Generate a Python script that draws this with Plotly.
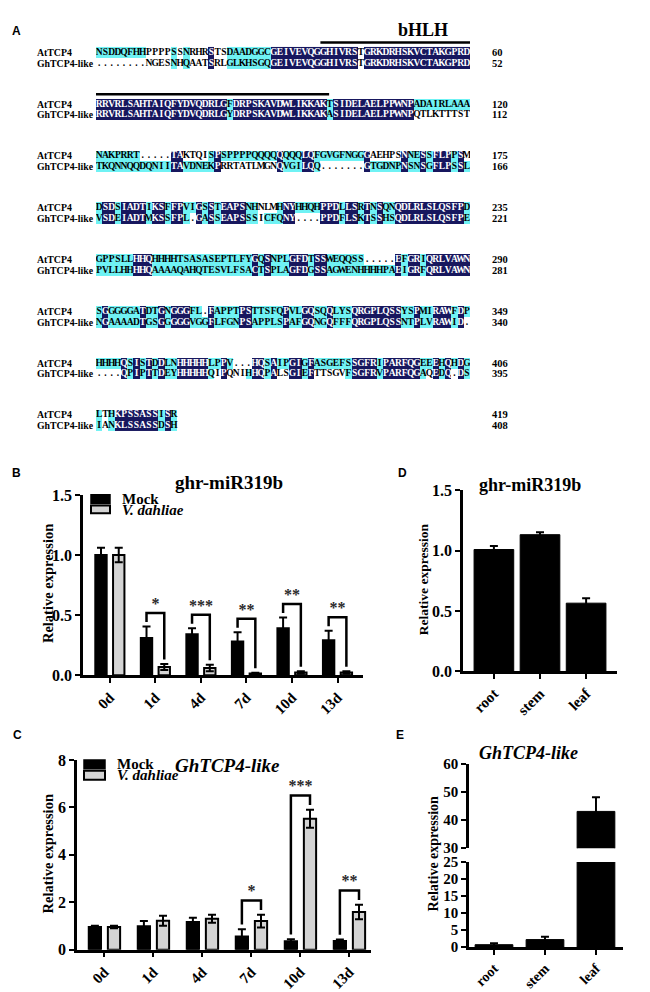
import plotly.graph_objects as go

# ------------------------------------------------------------------ data
SEQ_NAMES = ["AtTCP4", "GhTCP4-like"]
AT_SEQ = [
    "NSDDQFHHPPPPSSNRHRSTSDAADGGCGEIVEVQGGHIVRSTGRKDRHSKVCTAKGPRD",
    "RRVRLSAHTAIQFYDVQDRLGFDRPSKAVDWLIKKAKTSIDELAELPPWNPADAIRLAAA",
    "NAKPRRT.....TAKTQISPSPPPPQQQQQQQQLQFGVGFNGGGAEHPSNNESSFLPPSM",
    "DSDSIADTIKSFFPVIGSSTEAPSNHNLMHNYHHQHPPDLLSRTNSQNQDLRLSLQSFPD",
    "GPPSLLHHQHHHHTSASASEPTLFYGQSNPLGFDTSSWEQQSS.....EFGRIQRLVAWN",
    "SGGGGGATDTGNGGGFL.FAPPTPSTTSFQPVLGQSQQLYSQRGPLQSSYSPMIRAWFDP",
    "HHHHQSISTDDLNHHHHHLPPV...HQSAIPGIGFASGEFSSGFRIPARFQGEEEHQHDG",
    "LTHKPSSASSISR",
]
GH_SEQ = [
    "........NGESNHQAATSRLGLKHSGQGEIVEVQGGHIVRSTGRKDRHSKVCTAKGPRD",
    "RRVRLSAHTAIQFYDVQDRLGYDRPSKAVDWLIKKAKASIDELAELPPWNPQTLKTTTST",
    "TKQNNQQDQNIITAVDNEKPRRTATLMGNQVGILQQ.......GTGDNPNSNSGFLPSSL",
    "VSDEIADTMKSSFPL.GASSEAPSSSICFQNY....PPDFLSKTSSHSQDLRLSLQSFPE",
    "PVLLHHHHQAAAAQAHQTESVLFSACTSPLAGFDGSSAGWENHHHHPAEIGRFQRLVAWN",
    "NGAAAADTGSGGGGGVGGFLFGNPSAPPLSPAFGQNGQFFFQRGPLQSSNTPLVRAWID.",
    "....QPIPTTDEYHHHHHQIPQNIHHQPALSGIEFTTSGVFSGFRVPARFQGAQEDQ.DS",
    "IANKLSSASSDSH",
]
# shading: n = identical (navy), c = similar (cyan), - = none
AT_SHADE = [
    "cccccccc----c-c---n--ccccccc" + "n" * 14 + "-" + "n" * 17,
    "n" * 21 + "c" + "n" * 15 + "c" + "n" * 13 + "c" * 9,
    "c" * 7 + "-" * 5 + "nn" + "-" * 4 + "cnc" + "c" * 8 + "n" + "ccc" + "nn" + "c" * 8 + "n" + "-" * 5 + "ncc" + "nc" + "nnn" + "cn-",
    "cnncnnnncnncnnccncncnnnncc---cnnccccnnncnncncnccn" + "n" * 10 + "c",
    "c" * 6 + "nnn" + "c" * 16 + "ncn" + "ccc" + "nnn" + "c" + "nn" + "c" * 6 + "-" * 5 + "nc" + "nn" + "c" + "n" * 7,
    "cn" + "c" * 5 + "n" + "cc" + "nc" + "nnn" + "cc" + "-" + "n" + "cccc" + "nn" + "c" * 5 + "n" + "cc" + "nn" + "cc" + "n" + "ccc" + "n" * 8 + "cc" + "n" + "cc" + "nnn" + "cnc",
    "cccc" + "ncncncn" + "cc" + "n" * 5 + "cc" + "nc" + "---" + "nn" + "cn" + "cc" + "nn" + "cn" + "c" * 6 + "nnnn" + "c" + "n" * 6 + "cc" + "ncncnc",
    "c-cnnnnnnncnc",
]
GH_SHADE = [
    "--------" + "----c-c---n--ccccccc" + "n" * 14 + "-" + "n" * 17,
    "n" * 21 + "c" + "n" * 15 + "c" + "n" * 13 + "-" * 9,
    "c" * 12 + "nn" + "c" * 5 + "n" + "-" * 9 + "n" + "ccc" + "nn" + "c" + "-" * 7 + "n" + "c" * 5 + "n" + "cc" + "nc" + "nnn" + "cnc",
    "cnncnnnncnncnnc-ncncnnnncc-cccnn----nnncnncncnccn" + "n" * 10 + "c",
    "c" * 6 + "nnn" + "c" * 16 + "ncn" + "ccc" + "nnn" + "c" + "nn" + "c" * 11 + "nc" + "nn" + "c" + "n" * 7,
    "cn" + "c" * 5 + "n" + "cc" + "nc" + "nnn" + "cc" + "c" + "n" + "cccc" + "nn" + "c" * 5 + "n" + "cc" + "nn" + "cc" + "n" + "ccc" + "n" * 8 + "cc" + "n" + "cc" + "nnn" + "cn-",
    "----" + "ncncncn" + "cc" + "n" * 5 + "c-n---c" + "nn" + "cn" + "--" + "nn" + "cn" + "-----" + "c" + "nnnn" + "c" + "n" * 6 + "c-" + "ncn-nc",
    "c-cnnnnnnncnc",
]
AT_END = [60, 120, 175, 235, 290, 349, 406, 419]
GH_END = [52, 112, 166, 221, 281, 340, 395, 408]
BHLH_SPANS = [(0, 37, 60), (1, 1, 37)]  # (block, first column, last column)

DAYS = ["0d", "1d", "4d", "7d", "10d", "13d"]
MIR_MOCK = [1.00, 0.31, 0.34, 0.28, 0.39, 0.29]
MIR_MOCK_ERR = [0.06, 0.095, 0.05, 0.077, 0.09, 0.08]
MIR_VD = [1.00, 0.068, 0.06, 0.015, 0.022, 0.022]
MIR_VD_ERR = [0.06, 0.025, 0.027, 0.005, 0.01, 0.01]
MIR_SIG = ["", "*", "***", "**", "**", "**"]

TCP_MOCK = [0.96, 0.99, 1.17, 0.56, 0.36, 0.37]
TCP_MOCK_ERR = [0.05, 0.22, 0.18, 0.30, 0.08, 0.06]
TCP_VD = [0.96, 1.22, 1.31, 1.21, 5.52, 1.59]
TCP_VD_ERR = [0.05, 0.21, 0.17, 0.27, 0.38, 0.31]
TCP_SIG = ["", "", "", "*", "***", "**"]

TISSUES = ["root", "stem", "leaf"]
MIR_TISSUE = [1.01, 1.133, 0.565]
MIR_TISSUE_ERR = [0.03, 0.02, 0.04]
TCP_TISSUE = [0.7, 2.2, 43.1]
TCP_TISSUE_ERR = [0.4, 0.8, 5.0]

# ------------------------------------------------------------------ helpers
W, H = 650, 992


def px(x):
    return x / W


def py(y):
    return 1 - y / H


SERIF = "Liberation Serif, Times New Roman, serif"
SANS = "Liberation Sans, Arial, sans-serif"
NAVY = "#17175e"
CYAN = "#6ff2f4"
GRAY = "#d4d4d4"


def bfont(size, color="black", style="normal"):
    return dict(family=SERIF, size=size, color=color, weight="bold", style=style)


fig = go.Figure()
annotations = []
shapes = []

# ------------------------------------------------------------------ panel A (alignment)
ROW0, PITCH, ROWH, NCOL = 37.0, 52.7, 11.0, 60
CODE = {"n": 2, "c": 1, "-": 0}


def shade_row(s):
    vals = [CODE.get(ch, 0) for ch in s[:NCOL]]
    return vals + [None] * (NCOL - len(vals))


z, edges = [], []
tx, ty, tt, tc = [], [], [], []
nb = len(AT_SEQ)
for b in range(nb):
    top = ROW0 + PITCH * b - ROWH / 2
    edges += [top, top + ROWH]
    z.append(shade_row(AT_SHADE[b]))
    z.append(shade_row(GH_SHADE[b]))
    if b < nb - 1:
        edges.append(top + 2 * ROWH)
        z.append([None] * NCOL)
    for r, (seq, shd) in enumerate(((AT_SEQ[b], AT_SHADE[b]), (GH_SEQ[b], GH_SHADE[b]))):
        yc = ROW0 + PITCH * b + r * ROWH
        for i, ch in enumerate(seq):
            tx.append(i + 1)
            ty.append(yc)
            tt.append(ch)
            code = shd[i] if i < len(shd) else "-"
            tc.append("white" if code == "n" else "black")
        annotations.append(dict(x=px(27), y=yc, xref="paper", yref="y5", text=SEQ_NAMES[r],
                                showarrow=False, xanchor="left", yanchor="middle",
                                font=bfont(9.8)))
        annotations.append(dict(x=px(482), y=yc, xref="paper", yref="y5",
                                text=str((AT_END if r == 0 else GH_END)[b]),
                                showarrow=False, xanchor="left", yanchor="middle",
                                font=bfont(10.5)))
edges.append(ROW0 + PITCH * (nb - 1) - ROWH / 2 + 2 * ROWH)

fig.add_trace(go.Heatmap(
    x=list(range(1, NCOL + 1)), y=edges, z=z, zmin=0, zmax=2,
    colorscale=[[0, "white"], [0.25, "white"], [0.25, CYAN], [0.75, CYAN],
                [0.75, NAVY], [1, NAVY]],
    showscale=False, hoverinfo="skip", xaxis="x5", yaxis="y5"))
fig.add_trace(go.Scatter(
    x=tx, y=ty, text=tt, mode="text", hoverinfo="skip", showlegend=False,
    textfont=dict(family=SERIF, size=9.5, color=tc, weight="bold"),
    xaxis="x5", yaxis="y5"))

for b, c0, c1 in BHLH_SPANS:
    yb = ROW0 + PITCH * b - 10
    shapes.append(dict(type="line", xref="x5", yref="y5", x0=c0 - 0.5, x1=c1 + 0.9,
                       y0=yb, y1=yb, line=dict(color="black", width=2.5)))
annotations.append(dict(x=px(415), y=py(14), xref="paper", yref="paper", text="bHLH",
                        showarrow=False, xanchor="center", yanchor="middle", font=bfont(18)))

# ------------------------------------------------------------------ grouped bar panels (B, C)
MOCK_OFF, VD_OFF, BW = -0.32, 0.07, 0.25


def grouped(xa, ya, mock, mock_err, vd, vd_err, sig, yrange):
    idx = list(range(len(mock)))
    err_style = dict(type="data", visible=True, color="black", thickness=2, width=4)
    fig.add_trace(go.Bar(x=idx, y=mock, width=BW, offset=MOCK_OFF, xaxis=xa, yaxis=ya,
                         marker=dict(color="black", line=dict(color="black", width=2)),
                         error_y=dict(array=mock_err, **err_style),
                         hoverinfo="skip", showlegend=False))
    fig.add_trace(go.Bar(x=idx, y=vd, width=BW, offset=VD_OFF, xaxis=xa, yaxis=ya,
                         marker=dict(color=GRAY, line=dict(color="black", width=2)),
                         error_y=dict(array=vd_err, **err_style),
                         hoverinfo="skip", showlegend=False))
    span = yrange[1] - yrange[0]
    bx, by, sx, sy, st = [], [], [], [], []
    for i, s in enumerate(sig):
        if not s:
            continue
        xl = i + MOCK_OFF + BW / 2
        xr = i + VD_OFF + BW / 2
        yl = mock[i] + mock_err[i] + 0.025 * span
        yr = vd[i] + vd_err[i] + 0.025 * span
        top = max(mock[i] + mock_err[i], vd[i] + vd_err[i]) + 0.075 * span
        bx += [xl, xl, xr, xr, None]
        by += [yl, top, top, yr, None]
        sx.append((xl + xr) / 2)
        sy.append(top + 0.045 * span)
        st.append(s)
    fig.add_trace(go.Scatter(x=bx, y=by, mode="lines", xaxis=xa, yaxis=ya,
                             line=dict(color="black", width=2.5), hoverinfo="skip",
                             showlegend=False))
    fig.add_trace(go.Scatter(x=sx, y=sy, text=st, mode="text", xaxis=xa, yaxis=ya,
                             textfont=bfont(16, "#2a2a2a"), hoverinfo="skip",
                             showlegend=False))


grouped("x", "y", MIR_MOCK, MIR_MOCK_ERR, MIR_VD, MIR_VD_ERR, MIR_SIG, [0, 1.5])
grouped("x2", "y2", TCP_MOCK, TCP_MOCK_ERR, TCP_VD, TCP_VD_ERR, TCP_SIG, [0, 8])

# ------------------------------------------------------------------ tissue panels (D, E)
tidx = list(range(len(TISSUES)))
terr = dict(type="data", visible=True, color="black", thickness=2, width=4)
fig.add_trace(go.Bar(x=tidx, y=MIR_TISSUE, width=0.86, xaxis="x3", yaxis="y3",
                     marker=dict(color="black", line=dict(color="black", width=1)),
                     error_y=dict(array=MIR_TISSUE_ERR, **terr),
                     hoverinfo="skip", showlegend=False))
for xa, ya in (("x4", "y4"), ("x6", "y6")):
    fig.add_trace(go.Bar(x=tidx, y=TCP_TISSUE, width=0.74, xaxis=xa, yaxis=ya,
                         marker=dict(color="black", line=dict(color="black", width=1)),
                         error_y=dict(array=TCP_TISSUE_ERR, **terr),
                         hoverinfo="skip", showlegend=False))

# ------------------------------------------------------------------ axes


def ax(**kw):
    d = dict(showline=True, linecolor="black", linewidth=2.5, ticks="outside", ticklen=5,
             tickwidth=2, tickcolor="black", showgrid=False, zeroline=False,
             fixedrange=True, tickfont=bfont(16))
    d.update(kw)
    return d


xcat = dict(tickfont=bfont(15), tickangle=-45)
fig.update_layout(
    # B
    xaxis=ax(domain=[px(75), px(355)], range=[-0.59, 5.56], anchor="y",
             tickvals=list(range(6)), ticktext=DAYS, **xcat),
    yaxis=ax(domain=[py(670.7), py(487.3)], range=[0, 1.5], anchor="x",
             tickvals=[0, 0.5, 1.0, 1.5], ticktext=["0.0", "0.5", "1.0", "1.5"]),
    # C
    xaxis2=ax(domain=[px(69), px(363)], range=[-0.56, 5.44], anchor="y2",
              tickvals=list(range(6)), ticktext=DAYS, **xcat),
    yaxis2=ax(domain=[py(950), py(757)], range=[0, 8], anchor="x2",
              tickvals=[0, 2, 4, 6, 8]),
    # D
    xaxis3=ax(domain=[px(455), px(609)], range=[-0.67, 2.67], anchor="y3",
              tickvals=tidx, ticktext=TISSUES, **xcat),
    yaxis3=ax(domain=[py(666.7), py(482.7)], range=[0, 1.5], anchor="x3",
              tickvals=[0, 0.5, 1.0, 1.5], ticktext=["0.0", "0.5", "1.0", "1.5"]),
    # E lower
    xaxis4=ax(domain=[px(461), px(615)], range=[-0.49, 2.53], anchor="y4",
              tickvals=tidx, ticktext=TISSUES, tickfont=bfont(14), tickangle=-45),
    yaxis4=ax(domain=[py(947.3), py(860.7)], range=[0, 25], anchor="x4",
              tickvals=[0, 5, 10, 15, 20, 25], tickfont=bfont(15)),
    # E upper
    xaxis6=dict(domain=[px(461), px(615)], range=[-0.49, 2.53], anchor="y6",
                visible=False, fixedrange=True),
    yaxis6=ax(domain=[py(846.7), py(761)], range=[30, 60], anchor="x6",
              tickvals=[30, 40, 50, 60], tickfont=bfont(15)),
    # A
    xaxis5=dict(domain=[px(88), px(462)], range=[0.5, NCOL + 0.5], anchor="y5",
                visible=False, fixedrange=True),
    yaxis5=dict(domain=[py(460), 1], range=[460, 0], anchor="x5",
                visible=False, fixedrange=True),
)

# ------------------------------------------------------------------ legends (B, C)
for (bx0, bx1, yb0, yb1, yg0, yg1, tx0, ym, yv) in (
        (83, 102, 487, 496, 498, 506, 112, 491, 502.5),
        (76, 97, 757, 766, 768, 777, 107, 761.5, 772.5)):
    shapes.append(dict(type="rect", xref="paper", yref="paper", x0=px(bx0), x1=px(bx1),
                       y0=py(yb1), y1=py(yb0), fillcolor="black",
                       line=dict(color="black", width=1.5)))
    shapes.append(dict(type="rect", xref="paper", yref="paper", x0=px(bx0), x1=px(bx1),
                       y0=py(yg1), y1=py(yg0), fillcolor=GRAY,
                       line=dict(color="black", width=2)))
    annotations.append(dict(x=px(tx0), y=py(ym), xref="paper", yref="paper", text="Mock",
                            showarrow=False, xanchor="left", yanchor="middle",
                            font=bfont(15)))
    annotations.append(dict(x=px(tx0), y=py(yv), xref="paper", yref="paper",
                            text="V. dahliae", showarrow=False, xanchor="left",
                            yanchor="middle", font=bfont(15, style="italic")))

# ------------------------------------------------------------------ titles & labels
for text, x, y, size, style in (
        ("ghr-miR319b", 221, 475, 19, "normal"),
        ("GhTCP4-like", 219, 763, 19, "italic"),
        ("ghr-miR319b", 522, 477, 18, "normal"),
        ("GhTCP4-like", 520, 750, 18, "italic")):
    annotations.append(dict(x=px(x), y=py(y), xref="paper", yref="paper", text=text,
                            showarrow=False, xanchor="center", yanchor="middle",
                            font=bfont(size, style=style)))

for x, y, size in ((40, 578, 14.5), (40, 853, 14.5), (415, 573, 13.5), (425, 853, 14)):
    annotations.append(dict(x=px(x), y=py(y), xref="paper", yref="paper",
                            text="Relative expression", textangle=-90, showarrow=False,
                            xanchor="center", yanchor="middle", font=bfont(size)))

for lab, x, y in (("A", 8, 15), ("B", 8, 465), ("C", 9, 732), ("D", 394, 465), ("E", 392, 732)):
    annotations.append(dict(x=px(x), y=py(y), xref="paper", yref="paper", text=lab,
                            showarrow=False, xanchor="center", yanchor="middle",
                            font=dict(family=SANS, size=12, color="black", weight="bold")))

fig.update_layout(
    width=W, height=H, margin=dict(l=0, r=0, t=0, b=0),
    paper_bgcolor="white", plot_bgcolor="white", showlegend=False,
    barmode="overlay", annotations=annotations, shapes=shapes,
    font=dict(family=SERIF, color="black"),
)

fig.write_html("out.html")
